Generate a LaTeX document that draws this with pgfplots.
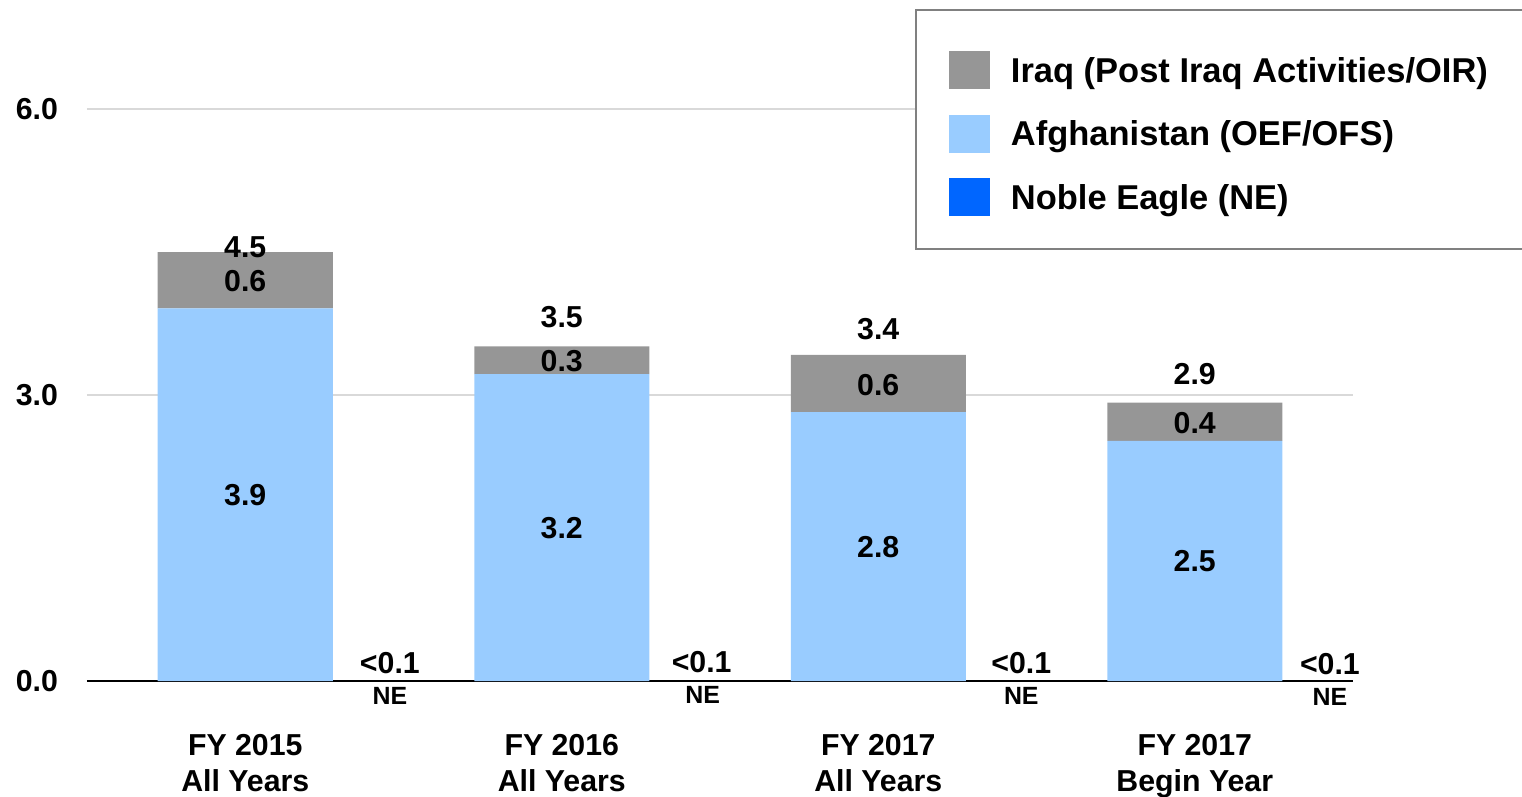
\documentclass[border=0pt]{standalone}
\usepackage{pgfplots}
\pgfplotsset{compat=1.18}
\usepackage{fontspec}
\setmainfont{Liberation Sans}
\definecolor{iraqbar}{HTML}{969696}
\definecolor{iraqleg}{HTML}{808080}
\definecolor{afg}{HTML}{99CCFF}
\definecolor{ne}{HTML}{0066FF}
\definecolor{gridc}{HTML}{D9D9D9}
\newcommand{\lblfont}{\bfseries\fontsize{15.2}{18}\selectfont}
\newcommand{\nefont}{\bfseries\fontsize{12.5}{15}\selectfont}
\begin{document}
\begin{tikzpicture}
\useasboundingbox (0,0) rectangle (761bp,398.5bp);
\begin{axis}[
  at={(43.5bp,58bp)}, anchor=south west,
  scale only axis, width=633bp, height=286bp,
  ybar stacked, bar width=87.5bp,
  xmin=-0.5, xmax=3.5, ymin=0, ymax=6,
  clip=false,
  axis x line*=bottom, axis y line*=left,
  y axis line style={draw=none},
  x axis line style={black, line width=1bp},
  major tick length=0pt,
  xtick={0,1,2,3},
  xticklabels={{FY 2015\\All Years},{FY 2016\\All Years},{FY 2017\\All Years},{FY 2017\\Begin Year}},
  xticklabel style={align=center, font=\lblfont, yshift=-23bp},
  ytick={0,3,6},
  ymajorgrids, grid style={gridc, line width=1.25bp},
  /pgf/number format/assume math mode=true,
  yticklabel style={font=\lblfont, /pgf/number format/fixed, /pgf/number format/fixed zerofill, /pgf/number format/precision=1, xshift=-11bp},
  legend image code/.code={\path[draw=none,fill=none] (0bp,-8.8bp) rectangle (20.5bp,14bp);\fill[#1] (0bp,-8.8bp) rectangle (20.5bp,10.2bp);},
  reverse legend,
  legend style={at={(0.654,1.1748)}, anchor=north west, draw=iraqleg, fill=white,
    line width=1bp, inner xsep=16.5bp, inner ysep=16.7bp,
    nodes={inner sep=0pt}, row sep=8.95bp, column sep=10.5bp,
    font=\bfseries\fontsize{17.3}{20}\selectfont},
  legend cell align=left,
]
% Noble Eagle (<0.1, drawn at zero height beside each bar)
\addplot[fill=ne, draw=none, bar shift=71bp] coordinates {(0,0) (1,0) (2,0) (3,0)};
\addlegendentry{Noble Eagle (NE)}
% Afghanistan
\addplot[fill=afg, draw=none] coordinates {(0,3.91) (1,3.22) (2,2.82) (3,2.52)};
\addlegendentry{Afghanistan (OEF/OFS)}
% Iraq
\addplot[fill=iraqbar, draw=none] coordinates {(0,0.59) (1,0.29) (2,0.60) (3,0.40)};
\addlegendentry{Iraq (Post Iraq Activities/OIR)\hspace*{30bp}}
% label anchor points
\coordinate (t0) at (axis cs:0,4.55);
\coordinate (t1) at (axis cs:1,3.82);
\coordinate (t2) at (axis cs:2,3.69);
\coordinate (t3) at (axis cs:3,3.22);
\coordinate (i0) at (axis cs:0,4.20);
\coordinate (i1) at (axis cs:1,3.36);
\coordinate (i2) at (axis cs:2,3.10);
\coordinate (i3) at (axis cs:3,2.71);
\coordinate (a0) at (axis cs:0,1.95);
\coordinate (a1) at (axis cs:1,1.60);
\coordinate (a2) at (axis cs:2,1.41);
\coordinate (a3) at (axis cs:3,1.26);
\coordinate (n0) at (axis cs:0.457,0.19);
\coordinate (n1) at (axis cs:1.442,0.20);
\coordinate (n2) at (axis cs:2.452,0.19);
\coordinate (n3) at (axis cs:3.427,0.18);
\coordinate (e0) at (axis cs:0.457,-0.157);
\coordinate (e1) at (axis cs:1.445,-0.145);
\coordinate (e2) at (axis cs:2.452,-0.157);
\coordinate (e3) at (axis cs:3.427,-0.17);
\end{axis}
\begin{scope}[every node/.style={font=\lblfont}]
\node at (t0) {4.5}; \node at (t1) {3.5}; \node at (t2) {3.4}; \node at (t3) {2.9};
\node at (i0) {0.6}; \node at (i1) {0.3}; \node at (i2) {0.6}; \node at (i3) {0.4};
\node at (a0) {3.9}; \node at (a1) {3.2}; \node at (a2) {2.8}; \node at (a3) {2.5};
\node at (n0) {<0.1}; \node at (n1) {<0.1}; \node at (n2) {<0.1}; \node at (n3) {<0.1};
\end{scope}
\begin{scope}[every node/.style={font=\nefont}]
\node at (e0) {NE}; \node at (e1) {NE}; \node at (e2) {NE}; \node at (e3) {NE};
\end{scope}
\end{tikzpicture}
\end{document}
